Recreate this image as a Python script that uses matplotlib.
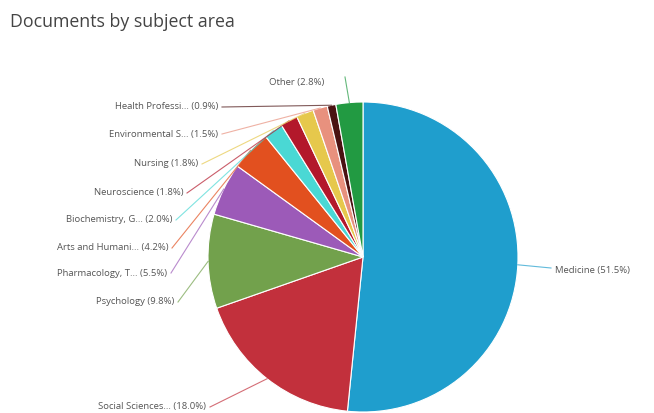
import matplotlib.pyplot as plt
import numpy as np

plt.rcParams['font.family'] = ['Open Sans', 'DejaVu Sans']

subjects = ["Medicine", "Social Sciences...", "Psychology", "Pharmacology, T...",
            "Arts and Humani...", "Biochemistry, G...", "Neuroscience", "Nursing",
            "Environmental S...", "Health Professi...", "Other"]
shares = [51.5, 18.0, 9.8, 5.5, 4.2, 2.0, 1.8, 1.8, 1.5, 0.9, 2.8]
colors = ['#1f9ecd', '#c2303c', '#72a14c', '#9c5ab8', '#e2501f', '#4ad8d4',
          '#b3182b', '#e6c84c', '#e8917e', '#4a1212', '#229a42']

# label anchor positions in pixels (x, y from top), alignment
label_pos = [(555, 270, 'left'), (206, 407, 'right'), (174, 302, 'right'),
             (167, 273, 'right'), (168, 248, 'right'), (172, 220, 'right'),
             (183, 193, 'right'), (198, 164, 'right'), (218, 134, 'right'),
             (218, 107, 'right'), (297, 82, 'center')]

W, H = 654, 414
fig = plt.figure(figsize=(W / 100, H / 100), dpi=100)
fig.patch.set_facecolor('white')
ax = fig.add_axes([0, 0, 1, 1])

cx, cy, r = 363, H - 258, 155
ax.pie(shares, colors=colors, startangle=90, counterclock=False,
       center=(cx, cy), radius=r, frame=True,
       wedgeprops=dict(edgecolor='white', linewidth=0.8))
ax.set_xlim(0, W)
ax.set_ylim(0, H)
ax.set_aspect('equal')
ax.axis('off')

total = sum(shares)
cum = 0
for name, val, col, (lx, ly, ha) in zip(subjects, shares, colors, label_pos):
    mid = (cum + val / 2) / total * 360
    cum += val
    ang = np.deg2rad(90 - mid)
    px, py = cx + r * np.cos(ang), cy + r * np.sin(ang)
    ty = H - ly
    if ha == 'right':
        sx, sy = lx + 4, ty - 1
    elif ha == 'left':
        sx, sy = lx - 4, ty + 1
    else:
        sx, sy = lx + 48, ty + 4
    ax.plot([sx, px], [sy, py], color=col, lw=0.8, alpha=0.7)
    ax.text(lx, ty, f"{name} ({val:.1f}%)", ha=ha, va='center',
            fontsize=6.8, color='#555555')

fig.text(10 / W, 1 - 22 / H, "Documents by subject area", ha='left', va='center',
         fontsize=12.8, color='#444444')

fig.savefig('out.png', dpi=100, facecolor='white')
